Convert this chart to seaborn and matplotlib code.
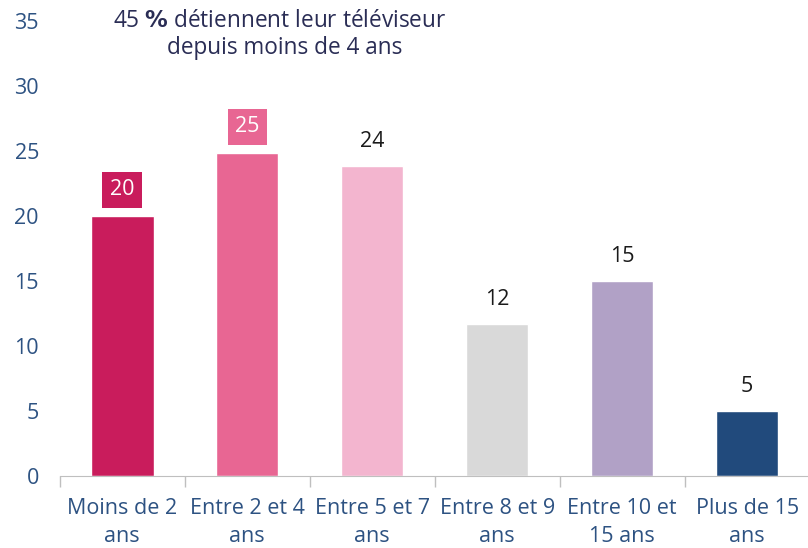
import numpy as np
import pandas as pd
from matplotlib import pyplot as plt
import seaborn as sns

categories = ['Moins de 2\nans', 'Entre 2 et 4\nans', 'Entre 5 et 7\nans',
              'Entre 8 et 9\nans', 'Entre 10 et\n15 ans', 'Plus de 15\nans']
values = [20.0, 24.85, 23.85, 11.7, 15.0, 5.0]
labels = ['20', '25', '24', '12', '15', '5']
colors = ['#c91c5c', '#e86693', '#f3b5cf', '#d9d9d9', '#b1a1c6', '#214a7c']
boxed = [True, True, False, False, False, False]

sns.set_style('white')
plt.rcParams['font.family'] = ['Open Sans', 'DejaVu Sans']

df = pd.DataFrame({'cat': categories, 'val': values})

fig = plt.figure(figsize=(8.08, 5.48), dpi=100)
ax = fig.add_axes([0.074, 0.131, 0.928, 0.831])
sns.barplot(data=df, x='cat', y='val', hue='cat', palette=colors, legend=False,
            width=0.5, saturation=1, ax=ax)

ax.set_ylim(0, 35)
ax.set_xlim(-0.5, 5.5)
ax.set_yticks(np.arange(0, 36, 5))
ax.set_xlabel('')
ax.set_ylabel('')
tick_col = '#2d5282'
ax.tick_params(axis='y', labelsize=15.5, labelcolor=tick_col, length=0, pad=15)
ax.tick_params(axis='x', labelsize=15.5, labelcolor=tick_col, length=0, pad=16)
ax.set_xticks(range(len(categories)))
ax.set_xticks(np.arange(-0.5, 6, 1), minor=True)
ax.tick_params(axis='x', which='minor', bottom=True, length=8, color='#bfbfbf', width=1)
for s in ['left', 'right', 'top']:
    ax.spines[s].set_visible(False)
ax.spines['bottom'].set_color('#bfbfbf')
for t in ax.get_xticklabels():
    t.set_linespacing(1.4)

for i, (v, lab, c, b) in enumerate(zip(values, labels, colors, boxed)):
    if b:
        ax.text(i, v + 2.0, lab, ha='center', va='center', fontsize=15.5, color='white',
                bbox=dict(boxstyle='square,pad=0.35', fc=c, ec='none'))
    else:
        ax.text(i, v + 1.9, lab, ha='center', va='center', fontsize=15.5, color='#1a1a1a')

title_col = '#2a2d55'
fig.text(0.346, 0.962, '45 $\\bf{\\%}$ détiennent leur téléviseur', ha='center', va='center',
         fontsize=16.3, color=title_col)
fig.text(0.352, 0.912, 'depuis moins de 4 ans', ha='center', va='center',
         fontsize=16.3, color=title_col)

fig.savefig('out.png', dpi=100)
